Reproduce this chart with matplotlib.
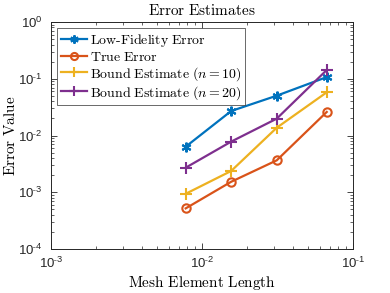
import math
import matplotlib
matplotlib.use("Agg")
import matplotlib.pyplot as plt
from matplotlib.ticker import LogLocator, FuncFormatter

plt.rcParams['font.family'] = ['Liberation Sans', 'DejaVu Sans']
plt.rcParams['mathtext.fontset'] = 'cm'

h = [0.0078, 0.0156, 0.03125, 0.067]
low_fidelity = [0.00635, 0.027, 0.0503, 0.107]
true_error = [0.00052, 0.00153, 0.00365, 0.026]
bound_n10 = [0.00094, 0.00237, 0.0137, 0.0577]
bound_n20 = [0.00271, 0.0078, 0.0198, 0.1426]

labels = [r'$\mathrm{Low\text{-}Fidelity\ Error}$', r'$\mathrm{True\ Error}$',
          r'$\mathrm{Bound\ Estimate\ (}n=10\mathrm{)}$',
          r'$\mathrm{Bound\ Estimate\ (}n=20\mathrm{)}$']
colors = ['#0072BD', '#D95319', '#EDB120', '#7E2F8E']

fig = plt.figure(figsize=(3.9, 2.93), dpi=100)
ax = fig.add_axes([51/390, 1-249/293, (353-51)/390, (249-22)/293])

ax.plot(h, low_fidelity, color=colors[0], marker=(6, 2, 0), ms=7, mew=1.5, lw=1.6, label=labels[0])
ax.plot(h, true_error, color=colors[1], marker='o', ms=6, mfc='none', mew=1.5, lw=1.6, label=labels[1])
ax.plot(h, bound_n10, color=colors[2], marker='+', ms=8, mew=1.5, lw=1.6, label=labels[2])
ax.plot(h, bound_n20, color=colors[3], marker='+', ms=8, mew=1.5, lw=1.6, label=labels[3])

ax.set_xscale('log')
ax.set_yscale('log')
ax.set_xlim(1e-3, 1e-1)
ax.set_ylim(1e-4, 1)
ax.xaxis.set_major_locator(LogLocator(base=10, numticks=10))
ax.yaxis.set_major_locator(LogLocator(base=10, numticks=10))

def fmt(v, p):
    e = int(round(math.log10(v)))
    if e < 0:
        return '$\\mathdefault{10^{\\text{-}%d}}$' % (-e)
    return '$\\mathdefault{10^{%d}}$' % e

ax.xaxis.set_major_formatter(FuncFormatter(fmt))
ax.yaxis.set_major_formatter(FuncFormatter(fmt))
ax.tick_params(which='both', direction='in', top=True, right=True, colors='#262626', labelsize=9.5)
ax.tick_params(which='major', length=4, width=0.6)
ax.tick_params(which='minor', length=2, width=0.5)
ax.tick_params(axis='y', which='major', pad=6)
ax.tick_params(axis='x', which='major', pad=5)
for s in ax.spines.values():
    s.set_color('#262626')
    s.set_linewidth(0.7)

ax.set_title(r'$\mathrm{Error\ Estimates}$', fontsize=11, pad=5)
ax.set_xlabel(r'$\mathrm{Mesh\ Element\ Length}$', fontsize=11, labelpad=2)
ax.set_ylabel(r'$\mathrm{Error\ Value}$', fontsize=11)
ax.yaxis.set_label_coords(-0.11, 0.5)

leg = ax.legend(loc='upper left', fontsize=10, frameon=True, fancybox=False,
                edgecolor='#262626', handlelength=1.9, handletextpad=0.2,
                borderpad=0.25, labelspacing=0.08, borderaxespad=0.45,
                markerscale=0.85)
leg.get_frame().set_linewidth(0.6)

fig.savefig('out.png', dpi=100)
